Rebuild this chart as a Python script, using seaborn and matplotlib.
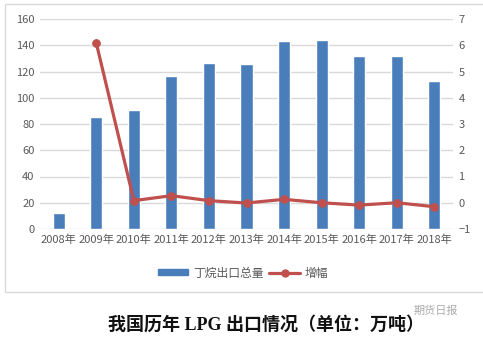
import numpy as np
import pandas as pd
import matplotlib
matplotlib.use("Agg")
import matplotlib.pyplot as plt
import seaborn as sns
from matplotlib.patches import Rectangle, Patch
from matplotlib.lines import Line2D

years = ["2008年", "2009年", "2010年", "2011年", "2012年", "2013年",
         "2014年", "2015年", "2016年", "2017年", "2018年"]
export_total = [12, 85, 91, 116.6, 126.5, 125.7, 143.2, 144, 131.8, 131.8, 112.8]
growth = [np.nan, 6.08, 0.08, 0.27, 0.08, -0.01, 0.13, 0.0, -0.09, 0.0, -0.15]
bar_label = "丁烷出口总量"
line_label = "增幅"
title = "我国历年 LPG 出口情况（单位：万吨）"
watermark = "期货日报"

sns.set_theme(style="white")
plt.rcParams['font.family'] = ['Noto Sans CJK SC', 'DejaVu Sans']

W, H = 483, 338
fig = plt.figure(figsize=(W / 100, H / 100), dpi=100)

# chart frame
fig.patches.append(Rectangle((5 / W, 1 - 292 / H), (W - 4) / W, 288 / H,
                             transform=fig.transFigure, fill=False,
                             edgecolor="#d9d9d9", linewidth=1.0))

ax = fig.add_axes([40 / W, 1 - 229 / H, 413 / W, 210 / H])
df = pd.DataFrame({"year": years, "total": export_total, "growth": growth,
                   "pos": np.arange(len(years))})

blue = "#4a7ebb"
red = "#c0504d"
grey = "#595959"

sns.barplot(data=df, x="year", y="total", color=blue, width=0.32,
            saturation=1, ax=ax, zorder=3)
ax.set_ylim(0, 160)
ax.set_yticks(np.arange(0, 161, 20))
ax.set_xlim(-0.5, len(years) - 0.5)
ax.grid(axis="y", color="#d9d9d9", linewidth=1.0, zorder=0)
ax.set_axisbelow(True)
for s in ax.spines.values():
    s.set_visible(False)
ax.set_xlabel("")
ax.set_ylabel("")
ax.tick_params(axis="both", length=0, labelsize=8, colors=grey, pad=4)

ax2 = ax.twinx()
sns.lineplot(data=df.dropna(), x="pos", y="growth", color=red, linewidth=2.3,
             marker="o", markersize=5.5, markeredgecolor=red, ax=ax2, zorder=4)
ax2.set_ylim(-1, 7)
ax2.set_yticks(np.arange(-1, 8, 1))
ax2.set_xlim(-0.5, len(years) - 0.5)
for s in ax2.spines.values():
    s.set_visible(False)
ax2.set_xlabel("")
ax2.set_ylabel("")
ax2.tick_params(axis="both", length=0, labelsize=8, colors=grey, pad=4)
ax2.grid(False)

handles = [Patch(facecolor=blue, edgecolor=blue),
           Line2D([], [], color=red, linewidth=2.3, marker="o", markersize=5)]
leg = fig.legend(handles, [bar_label, line_label], loc="center",
                 bbox_to_anchor=(243 / W, 1 - 273 / H), ncol=2, frameon=False,
                 fontsize=8.5, handlelength=2.6, handleheight=0.4,
                 columnspacing=0.5, handletextpad=0.4)
for t in leg.get_texts():
    t.set_color(grey)

fig.text(266 / W, 1 - 325 / H, title, ha="center", va="center",
         fontsize=13, fontweight="bold", color="#111111",
         family=['Liberation Serif', 'Noto Sans CJK SC'])
fig.text(436 / W, 1 - 311 / H, watermark, ha="center", va="center",
         fontsize=8, color="#aaaaaa")

fig.savefig("out.png", dpi=100)
